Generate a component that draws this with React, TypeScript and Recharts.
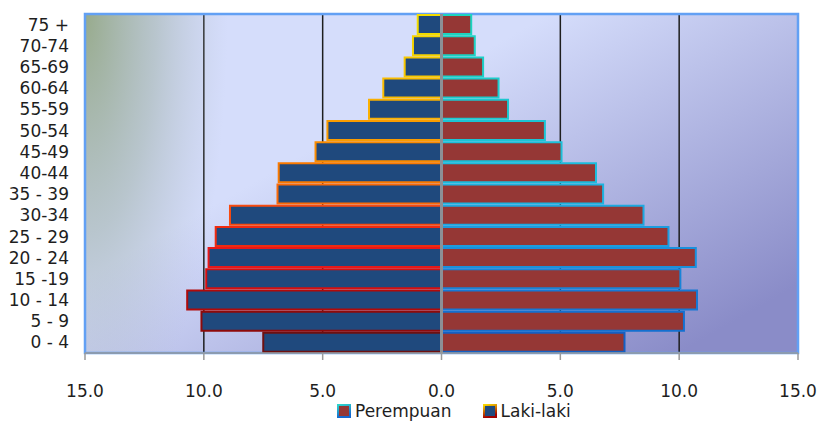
import React from "react";
import {
  Bar,
  BarChart,
  CartesianGrid,
  Cell,
  Legend,
  ReferenceArea,
  ReferenceLine,
  XAxis,
  YAxis,
} from "recharts";

// age groups, bottom to top
const ageGroups = [
  "0 - 4",
  "5 - 9",
  "10 - 14",
  "15 -19",
  "20 - 24",
  "25 - 29",
  "30-34",
  "35 - 39",
  "40-44",
  "45-49",
  "50-54",
  "55-59",
  "60-64",
  "65-69",
  "70-74",
  "75 +",
];

// percent of population
const lakiLaki = [7.5, 10.1, 10.7, 9.9, 9.8, 9.5, 8.9, 6.9, 6.85, 5.3, 4.8, 3.05, 2.45, 1.55, 1.2, 1.0];
const perempuan = [7.7, 10.2, 10.75, 10.05, 10.7, 9.55, 8.5, 6.8, 6.5, 5.05, 4.35, 2.8, 2.4, 1.75, 1.4, 1.25];

const xTicks = [-15, -10, -5, 0, 5, 10, 15];

const LAKI_FILL = "#1f497d";
const PEREMPUAN_FILL = "#953735";

// border colours per row, bottom to top
const lakiBorders = [
  "#6e1010", "#8e0a0a", "#b00a0a", "#d41010", "#e81818", "#f02a10", "#f84a10", "#fa6a08",
  "#fa7a00", "#fa8c00", "#fa9c00", "#fab000", "#fabc00", "#f8c800", "#f6d400", "#f2dc00",
];
const perempuanBorders = [
  "#1460c4", "#1470d0", "#1678d4", "#1884d8", "#1a90dc", "#1c9cde", "#1ca8e0", "#1cb4e0",
  "#1cbcdc", "#1cc0d8", "#1cc4d4", "#1cc8d0", "#1ccccc", "#1cd0c8", "#1cd2c4", "#1cd4c0",
];

const FONT = "'DejaVu Sans', Verdana, sans-serif";
const TEXT_COLOR = "#1e1e1e";

const chartData = ageGroups.map((age, i) => ({
  age,
  laki: -lakiLaki[i],
  perempuan: perempuan[i],
}));

const Swatch = ({ fill, from, to, id }: { fill: string; from: string; to: string; id: string }) => (
  <svg width={14} height={14} style={{ display: "block" }}>
    <defs>
      <linearGradient id={id} x1="0" y1="0" x2="0.3" y2="1">
        <stop offset="0" stopColor={from} />
        <stop offset="1" stopColor={to} />
      </linearGradient>
    </defs>
    <rect x={1} y={1} width={12} height={12} fill={fill} stroke={`url(#${id})`} strokeWidth={2} />
  </svg>
);

const renderLegend = (props: any) => {
  const items = [...(props.payload || [])].reverse();
  return (
    <div
      style={{
        display: "flex",
        alignItems: "center",
        marginLeft: 337,
        fontFamily: FONT,
        fontSize: 17,
        color: TEXT_COLOR,
        lineHeight: "20px",
      }}
    >
      {items.map((item: any, i: number) => {
        const isLaki = item.dataKey === "laki";
        return (
          <div
            key={item.value}
            style={{ display: "flex", alignItems: "center", marginLeft: i === 0 ? 0 : 31 }}
          >
            <Swatch
              id={`sw-${item.dataKey}`}
              fill={isLaki ? LAKI_FILL : PEREMPUAN_FILL}
              from={isLaki ? "#f8d800" : "#2ed4cc"}
              to={isLaki ? "#a00000" : "#1468d0"}
            />
            <span style={{ marginLeft: 4 }}>{item.value}</span>
          </div>
        );
      })}
    </div>
  );
};

export default function App() {
  return (
    <div style={{ position: "absolute", left: 0, top: 0, background: "#fff" }}>
      <BarChart
        width={819}
        height={424}
        data={chartData}
        layout="vertical"
        stackOffset="sign"
        barCategoryGap={1}
        margin={{ top: 14, right: 21, left: 0, bottom: 0 }}
      >
        <defs>
          <linearGradient id="plotBg" x1="0.4" y1="0.3" x2="1" y2="0.8">
            <stop offset="0" stopColor="#d5ddfb" />
            <stop offset="1" stopColor="#8a8cc8" />
          </linearGradient>
          <radialGradient
            id="leftFade"
            cx="0"
            cy="0"
            r="1"
            gradientTransform="scale(0.2, 1.3)"
          >
            <stop offset="0" stopColor="#94a886" stopOpacity={0.95} />
            <stop offset="0.5" stopColor="#9caea0" stopOpacity={0.5} />
            <stop offset="1" stopColor="#b0bcc8" stopOpacity={0} />
          </radialGradient>
        </defs>
        <CartesianGrid
          horizontal={false}
          stroke="#1e1e1e"
          strokeWidth={1.5}
          fill="url(#plotBg)"
          fillOpacity={1}
        />
        <ReferenceArea x1={-15} x2={15} fill="url(#leftFade)" fillOpacity={1} stroke="none" />
        <XAxis
          type="number"
          domain={[-15, 15]}
          ticks={xTicks}
          interval={0}
          tickFormatter={(v: number) => Math.abs(v).toFixed(1)}
          axisLine={{ stroke: "#9a9a9a", strokeWidth: 1.5 }}
          tickLine={{ stroke: "#9a9a9a", strokeWidth: 1.5 }}
          tickSize={7}
          tickMargin={25}
          height={71}
          tick={{ fill: TEXT_COLOR, fontSize: 17, fontFamily: FONT }}
        />
        <YAxis
          type="category"
          dataKey="age"
          reversed
          width={85}
          axisLine={false}
          tickLine={false}
          tickSize={0}
          tickMargin={16}
          interval={0}
          tick={{ fill: TEXT_COLOR, fontSize: 17, fontFamily: FONT }}
        />
        <Legend
          layout="horizontal"
          verticalAlign="middle"
          align="center"
          wrapperStyle={{ top: 401, left: 0, width: 819 }}
          content={renderLegend}
        />
        <Bar dataKey="laki" name="Laki-laki" stackId="pyr" fill={LAKI_FILL} isAnimationActive={false}>
          {chartData.map((d, i) => (
            <Cell key={`l-${d.age}`} fill={LAKI_FILL} stroke={lakiBorders[i]} strokeWidth={2} />
          ))}
        </Bar>
        <Bar
          dataKey="perempuan"
          name="Perempuan"
          stackId="pyr"
          fill={PEREMPUAN_FILL}
          isAnimationActive={false}
        >
          {chartData.map((d, i) => (
            <Cell key={`p-${d.age}`} fill={PEREMPUAN_FILL} stroke={perempuanBorders[i]} strokeWidth={2} />
          ))}
        </Bar>
        <ReferenceLine x={0} stroke="#8c9096" strokeWidth={3} />
        <ReferenceArea x1={-15} x2={15} fill="none" stroke="#62a0f4" strokeWidth={2.5} />
      </BarChart>
    </div>
  );
}
